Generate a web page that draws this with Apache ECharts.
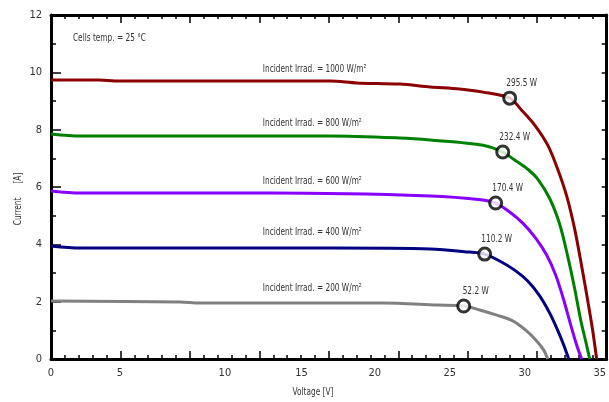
<!DOCTYPE html>
<html><head><meta charset="utf-8">
<script src="https://cdn.jsdelivr.net/npm/echarts@6/dist/echarts.min.js"></script>
<style>html,body{margin:0;padding:0;background:#fff}#c{width:609px;height:402px}</style>
</head><body><div id="c"></div>
<script>
const FONT = '"Liberation Sans Narrow","DejaVu Sans Condensed","Arial Narrow","Liberation Sans",sans-serif';

// ---- data (voltage in V, current in A) ----
const irradiance = [1000, 800, 600, 400, 200];
const volt1000 = [0, 3.5, 4.6, 20.1, 22.0, 25.1, 27.3, 29.4, 31.1, 33.02, 33.88, 34.82, 35.76, 36.47, 37.12, 37.70, 38.20, 38.63, 38.99, 39.28];
const amp1000  = [9.73, 9.73, 9.70, 9.70, 9.63, 9.59, 9.49, 9.42, 9.31, 9.10, 8.68, 8.16, 7.46, 6.63, 5.69, 4.53, 3.24, 2.06, 1.01, 0];
const volt800 = [0, 2.1, 20.1, 25.1, 27.3, 31.1, 32.52, 33.38, 34.32, 35.0, 35.9, 36.62, 37.19, 37.70, 38.13, 38.49, 38.78];
const amp800  = [7.85, 7.78, 7.78, 7.71, 7.64, 7.46, 7.22, 6.94, 6.62, 6.30, 5.60, 4.70, 3.60, 2.45, 1.36, 0.62, 0];
const volt600 = [0, 2.1, 15.8, 27.3, 31.1, 32.01, 33.02, 33.96, 34.89, 35.68, 36.33, 36.91, 37.41, 37.84, 38.20];
const amp600  = [5.86, 5.79, 5.79, 5.69, 5.55, 5.44, 5.13, 4.74, 4.22, 3.63, 2.93, 2.06, 1.19, 0.49, 0];
const volt400 = [0, 2.1, 20.1, 27.3, 30.1, 31.22, 32.30, 33.38, 34.32, 35.18, 35.90, 36.47, 36.91, 37.27];
const amp400  = [3.94, 3.87, 3.87, 3.84, 3.73, 3.66, 3.42, 3.10, 2.72, 2.20, 1.60, 1.01, 0.49, 0];
const volt200 = [0, 9.3, 10.7, 23.9, 27.8, 29.71, 30.86, 32.09, 33.24, 34.24, 34.96, 35.47, 35.76];
const amp200  = [2.02, 1.99, 1.95, 1.95, 1.88, 1.85, 1.71, 1.53, 1.33, 0.98, 0.63, 0.31, 0];

// maximum power points
const mppVolt  = [33.02, 32.52, 32.01, 31.22, 29.71];
const mppAmp   = [9.10, 7.22, 5.44, 3.66, 1.85];
const mppPower = [295.5, 232.4, 170.4, 110.2, 52.2];

// x tick labels as printed in the picture, and the axis values where the picture prints them
const xTickLabels  = ['0', '5', '10', '15', '20', '25', '30', '35'];
const xTickLabelAt = [0, 4.96, 12.52, 18.04, 23.31, 28.71, 34.1, 39.5];

const curveColors = ['#8b0000', '#008000', '#8800ff', '#000080', '#808080'];
const volts = [volt1000, volt800, volt600, volt400, volt200];
const amps = [amp1000, amp800, amp600, amp400, amp200];
const irradLabelPos = [[15.25, 10.11], [15.25, 8.23], [15.25, 6.21], [15.25, 4.43], [15.25, 2.48]];

const chart = echarts.init(document.getElementById('c'), null, {renderer: 'canvas'});

const lineSeries = volts.map((vs, k) => ({
  type: 'line',
  data: vs.map((v, j) => [v, amps[k][j]]),
  showSymbol: false,
  smooth: 0.3,
  lineStyle: {color: curveColors[k], width: 3},
  z: 2,
  silent: true
}));

const axisLine = {show: true, onZero: false, lineStyle: {color: '#000', width: 3}};

chart.setOption({
  animation: false,
  backgroundColor: '#fff',
  grid: {left: 51, right: 2, top: 15, bottom: 43, containLabel: false},
  xAxis: [{
    type: 'value', min: 0, max: 40, interval: 5, position: 'bottom',
    axisLine: axisLine,
    axisTick: {show: true, inside: true, length: 8, lineStyle: {color: '#000', width: 1.5}},
    minorTick: {show: true, splitNumber: 5, length: 4, lineStyle: {color: '#000', width: 1.5}},
    splitLine: {show: false},
    axisLabel: {
      show: true, customValues: xTickLabelAt, margin: 9, color: '#333', fontSize: 11, fontFamily: FONT,
      showMinLabel: true, showMaxLabel: true,
      formatter: function (val) {
        let best = 0, d = 1e9;
        xTickLabelAt.forEach((p, i) => { if (Math.abs(p - val) < d) { d = Math.abs(p - val); best = i; } });
        return xTickLabels[best];
      }
    }
  }, {
    type: 'value', min: 0, max: 40, interval: 5, position: 'top',
    axisLine: axisLine,
    axisTick: {show: true, inside: true, length: 8, lineStyle: {color: '#000', width: 1.5}},
    minorTick: {show: true, splitNumber: 5, length: 4, lineStyle: {color: '#000', width: 1.5}},
    splitLine: {show: false},
    axisLabel: {show: false}
  }],
  yAxis: [{
    type: 'value', min: 0, max: 12, interval: 2, position: 'left',
    axisLine: axisLine,
    axisTick: {show: true, inside: true, length: 10, lineStyle: {color: '#000', width: 1.5}},
    minorTick: {show: true, splitNumber: 2, length: 5, lineStyle: {color: '#000', width: 1.5}},
    splitLine: {show: false},
    axisLabel: {show: true, margin: 9, color: '#333', fontSize: 11, fontFamily: FONT}
  }, {
    type: 'value', min: 0, max: 12, interval: 1, position: 'right',
    axisLine: axisLine,
    axisTick: {show: true, inside: true, length: 5, lineStyle: {color: '#000', width: 1.5}},
    splitLine: {show: false},
    axisLabel: {show: false}
  }],
  series: lineSeries.concat([{
    type: 'scatter',
    data: mppVolt.map((v, k) => [v, mppAmp[k], mppPower[k]]),
    symbol: 'circle', symbolSize: 12,
    itemStyle: {color: '#fff', borderColor: '#000', borderWidth: 3},
    z: 5,
    silent: true
  }])
});

const SX = 0.82; // condensed look of the original lettering
const toPx = (pt) => chart.convertToPixel({xAxisIndex: 0, yAxisIndex: 0}, pt);
const txt = (x, y, text, align, extra) => Object.assign({
  type: 'text', x: x, y: y, z: 10, scaleX: SX,
  style: {text: text, fill: '#333', fontSize: 10, fontFamily: FONT, align: align, verticalAlign: 'middle'}
}, extra || {});
const graphics = [];
irradiance.forEach((g, k) => {
  const p = toPx(irradLabelPos[k]);
  graphics.push(txt(p[0], p[1], 'Incident Irrad. = ' + g + ' W/m²', 'left'));
});
mppPower.forEach((w, k) => {
  const p = toPx([mppVolt[k], mppAmp[k]]);
  graphics.push(txt(p[0] + 12, p[1] - 15, w.toFixed(1) + ' W', 'center'));
});
const tp = toPx([1.58, 11.2]);
graphics.push(txt(tp[0], tp[1], 'Cells temp. = 25 °C', 'left'));
graphics.push(txt(313, 392, 'Voltage [V]', 'center'));
graphics.push({type: 'text', x: 18, y: 199, rotation: Math.PI / 2, scaleX: SX, z: 10,
  style: {text: 'Current      [A]', fill: '#333', fontSize: 10, fontFamily: FONT, align: 'center', verticalAlign: 'middle'}});
chart.setOption({graphic: graphics});
</script>
</body></html>
